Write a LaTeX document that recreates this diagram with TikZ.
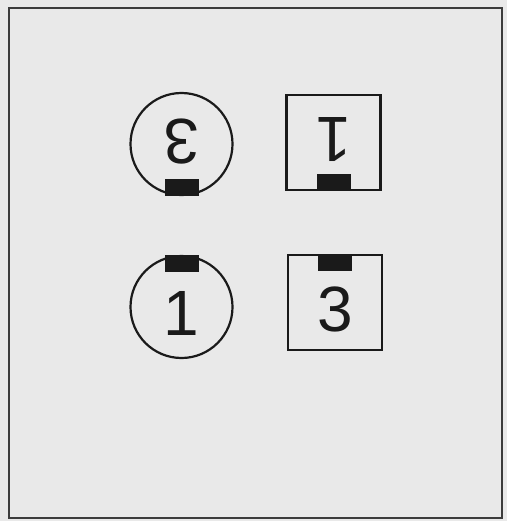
\documentclass[tikz,border=0pt]{standalone}
\usepackage{fontspec}
\setmainfont{Liberation Sans}
\usepackage{tikz}
\usetikzlibrary{positioning}
\definecolor{paper}{HTML}{E9E9E9}
\definecolor{ink}{HTML}{1A1A1A}
\definecolor{rim}{HTML}{3C3C3C}

\begin{document}
\begin{tikzpicture}[
  x=1pt, y=-1pt,
  dial/.style={circle, draw=ink, line width=2.2pt, minimum size=102pt, inner sep=0pt},
  plate/.style={rectangle, draw=ink, line width=2.2pt, minimum width=94pt, minimum height=95pt, inner sep=0pt},
  tab/.style={rectangle, fill=ink, minimum width=34pt, minimum height=17pt, inner sep=0pt},
  digit/.style={inner sep=0pt, text=ink, font=\fontsize{64}{64}\selectfont}
]
% page and outer frame
\fill[paper] (0,0) rectangle (507,521);
\draw[rim, line width=2pt] (9,8) rectangle (502,518);

% upper row (turned round)
\node[dial] (dialA) at (181.5,144) {};
\node[plate] (plateA) at (333.5,142.5) {};
\node[tab, anchor=south] (tabA) at (dialA.south) {};
\node[tab, anchor=south] (tabB) at (plateA.south) {};
\node[digit, rotate=180] (numA) at ([yshift=2pt]dialA.center) {3};
\node[digit, rotate=180] (numB) at ([yshift=2.5pt]plateA.center) {1};

% lower row
\node[dial] (dialB) at (181.5,307) {};
\node[plate] (plateB) at (335,302.5) {};
\node[tab, anchor=north] (tabC) at (dialB.north) {};
\node[tab, anchor=north] (tabD) at (plateB.north) {};
\node[digit] (numC) at ([yshift=-6.5pt]dialB.center) {1};
\node[digit] (numD) at ([yshift=-6.5pt]plateB.center) {3};
\end{tikzpicture}
\end{document}
